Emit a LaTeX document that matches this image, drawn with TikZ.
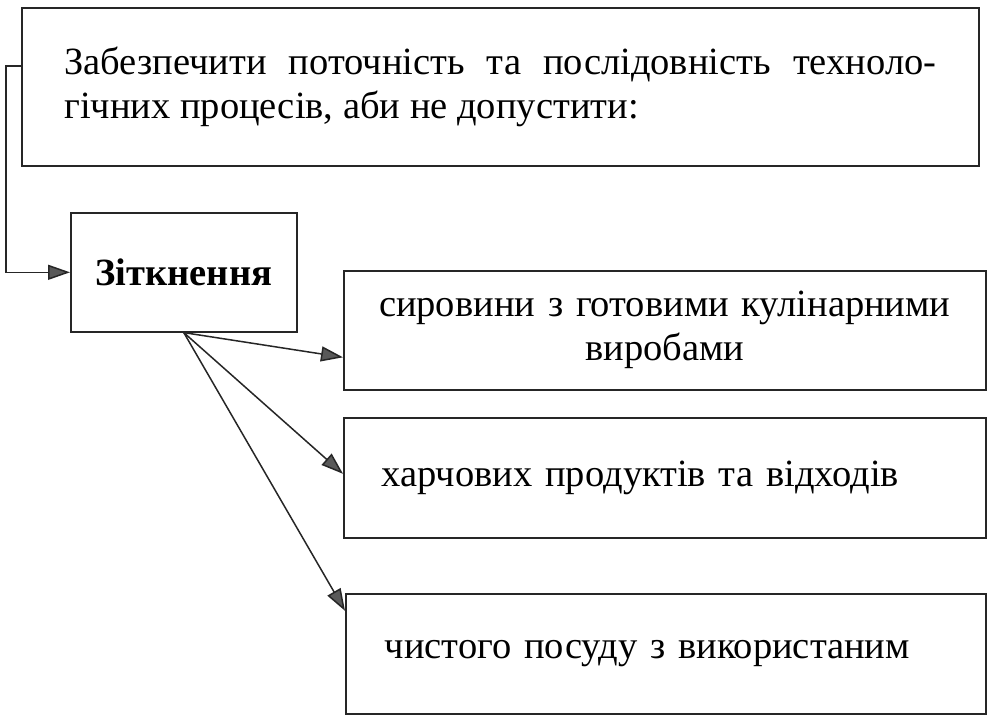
\documentclass[tikz,border=0pt]{standalone}
\usepackage{fontspec}
\setmainfont{Liberation Serif}
\usetikzlibrary{arrows.meta}
\tikzset{%
    bx/.style={rectangle, draw=black!85, line width=1.6pt, anchor=north west, inner sep=0pt, font=\fontsize{38.5}{44}\selectfont},
    pri/.style={line width=1.5pt, draw=black!85},
    pria/.style={line width=1.5pt, draw=black!85, -{Triangle[length=22pt, width=15pt, fill=black!65]}},
}

\begin{document}
\begin{tikzpicture}[x=1pt, y=-1pt]
    \useasboundingbox (0,0) rectangle (987,715);
    \node [bx, minimum width=957, minimum height=158, text width=872, align=justify] (top) at (21,7)
        {Забезпечити поточність та послідовність техноло-\linebreak гічних процесів, аби не допустити:\par\vspace{8pt}};
    \node [bx, minimum width=226, minimum height=119, font=\fontsize{38.5}{44}\selectfont\bfseries] (zit) at (70,212) {Зіткнення};
    \node [bx, minimum width=642, minimum height=119, text width=620, align=center] (b1) at (343,270)
        {сировини з готовими кулінарними\\виробами};
    \node [bx, minimum width=642, minimum height=120, text width=566, align=left] (b2) at (343,417)
        {харчових продуктів та відходів};
    \node [bx, minimum width=640, minimum height=120, text width=562, align=left] (b3) at (345,593)
        {чистого посуду з використаним};
    \draw [pria] ([yshift=21pt]top.west) -- ++(-15,0) |- (zit.west);
    \draw [pria] (zit.south) -- ([yshift=-27pt]b1.west);
    \draw [pria] (zit.south) -- ([yshift=4pt]b2.west);
    \draw [pria] (zit.south) -- ([yshift=43pt]b3.west);
\end{tikzpicture}
\end{document}
